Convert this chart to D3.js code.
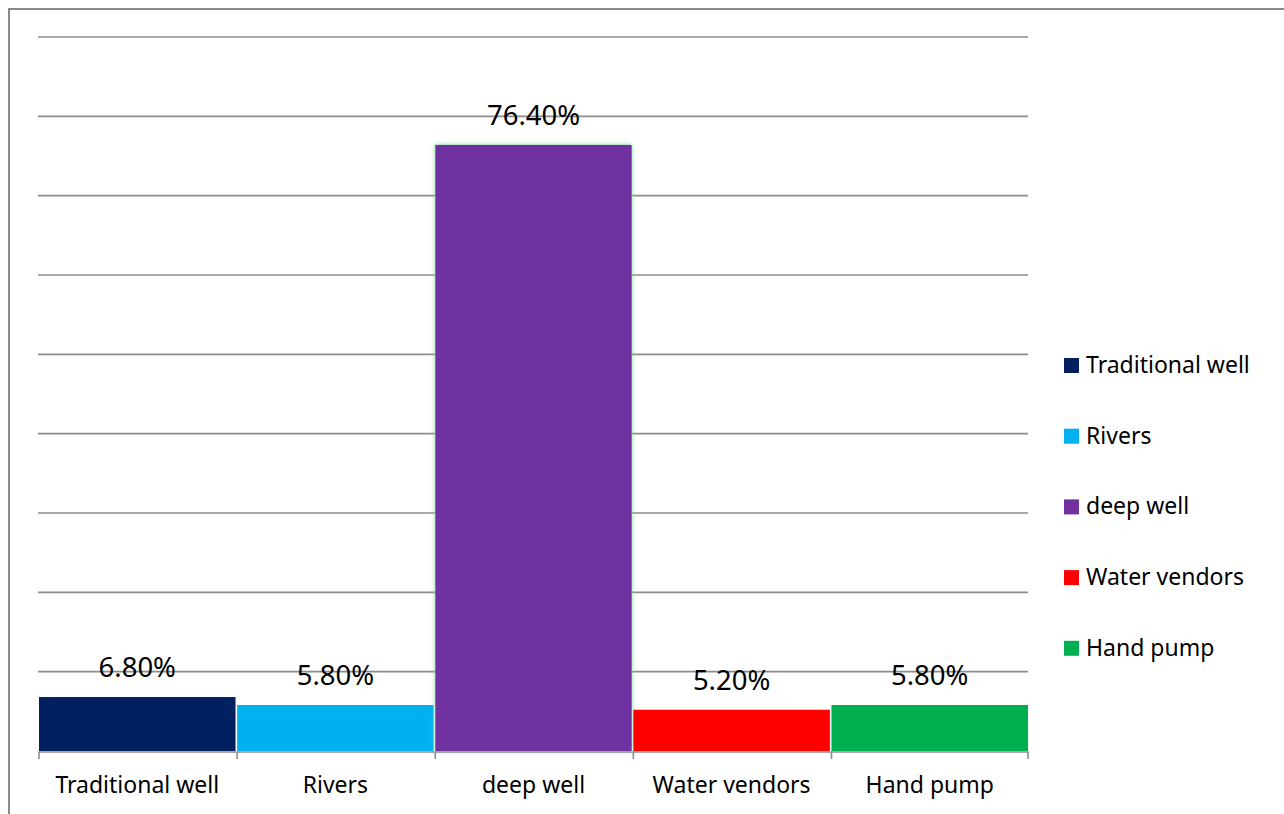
<!DOCTYPE html>
<html>
<head>
<meta charset="utf-8">
<script src="https://cdn.jsdelivr.net/npm/d3@7"></script>
<style>
  body { margin: 0; background: #fff; }
  svg { display: block; font-family: "Noto Sans", "Open Sans", sans-serif; }
</style>
</head>
<body>
<script>
var categories = ["Traditional well", "Rivers", "deep well", "Water vendors", "Hand pump"];
var values = [6.8, 5.8, 76.4, 5.2, 5.8];
var valueLabels = ["6.80%", "5.80%", "76.40%", "5.20%", "5.80%"];
var colors = ["#002060", "#00B0F0", "#7030A0", "#FF0000", "#00B050"];
var gridTicks = [10, 20, 30, 40, 50, 60, 70, 80, 90];

function drawChart() {
  var width = 1284, height = 814;
  var left = 39, right = 1028, top = 37, bottom = 751;

  var svg = d3.select("body").append("svg")
    .attr("width", width)
    .attr("height", height);

  var defs = svg.append("defs");
  var glow = defs.append("filter").attr("id", "glow")
    .attr("x", "-5%").attr("y", "-5%").attr("width", "110%").attr("height", "110%");
  glow.append("feDropShadow")
    .attr("dx", 0).attr("dy", 0).attr("stdDeviation", 2.5)
    .attr("flood-color", "#6fd890").attr("flood-opacity", 0.9);

  // outer frame
  svg.append("rect")
    .attr("x", 9).attr("y", 9)
    .attr("width", width + 20).attr("height", height + 20)
    .attr("fill", "none")
    .attr("stroke", "#8a8a8a")
    .attr("stroke-width", 2);

  var x = d3.scaleBand()
    .domain(categories)
    .range([left, right])
    .paddingInner(0.008);

  var y = d3.scaleLinear()
    .domain([0, 90])
    .range([bottom, top]);

  // gridlines
  svg.append("g").selectAll("line")
    .data(gridTicks)
    .join("line")
    .attr("x1", left - 1).attr("x2", right)
    .attr("y1", function(d) { return y(d); })
    .attr("y2", function(d) { return y(d); })
    .attr("stroke", "#8c8c8c")
    .attr("stroke-width", 1.6);

  // bars
  svg.append("g").selectAll("rect")
    .data(values)
    .join("rect")
    .attr("x", function(d, i) { return x(categories[i]); })
    .attr("y", function(d) { return y(d); })
    .attr("width", x.bandwidth())
    .attr("height", function(d) { return y(0) - y(d); })
    .attr("fill", function(d, i) { return colors[i]; })
    .attr("filter", function(d, i) { return i === 2 ? "url(#glow)" : null; });

  // value labels
  svg.append("g").selectAll("text")
    .data(values)
    .join("text")
    .attr("x", function(d, i) { return x(categories[i]) + x.bandwidth() / 2; })
    .attr("y", function(d) { return y(d) - 20; })
    .attr("text-anchor", "middle")
    .attr("font-size", 27.5)
    .attr("fill", "#000")
    .text(function(d, i) { return valueLabels[i]; });

  // x axis
  var xAxis = d3.axisBottom(x).tickSize(0).tickPadding(0);
  var ax = svg.append("g")
    .attr("transform", "translate(0," + bottom + ")")
    .call(xAxis);
  ax.select(".domain").remove();
  ax.selectAll("text")
    .attr("y", 42)
    .attr("dy", 0)
    .attr("font-size", 23)
    .attr("font-family", "Noto Sans, Open Sans, sans-serif")
    .attr("fill", "#000");

  ax.append("line")
    .attr("x1", left - 1).attr("x2", right + 1)
    .attr("y1", 1).attr("y2", 1)
    .attr("stroke", "#8c8c8c")
    .attr("stroke-width", 1.6);

  var bounds = categories.map(function(c) { return x(c); }).concat([right]);
  ax.selectAll(".sep")
    .data(bounds)
    .join("line")
    .attr("class", "sep")
    .attr("x1", function(d) { return d; })
    .attr("x2", function(d) { return d; })
    .attr("y1", 1).attr("y2", 8)
    .attr("stroke", "#8c8c8c")
    .attr("stroke-width", 1.6);

  // legend
  var legend = svg.append("g").selectAll("g")
    .data(categories)
    .join("g")
    .attr("transform", function(d, i) { return "translate(1064," + (358 + i * 70.7) + ")"; });

  legend.append("rect")
    .attr("width", 15).attr("height", 15)
    .attr("fill", function(d, i) { return colors[i]; });

  legend.append("text")
    .attr("x", 22).attr("y", 15)
    .attr("font-size", 23)
    .attr("fill", "#000")
    .text(function(d) { return d; });
}

document.addEventListener("DOMContentLoaded", function(event) {
  drawChart();
});
</script>
</body>
</html>
